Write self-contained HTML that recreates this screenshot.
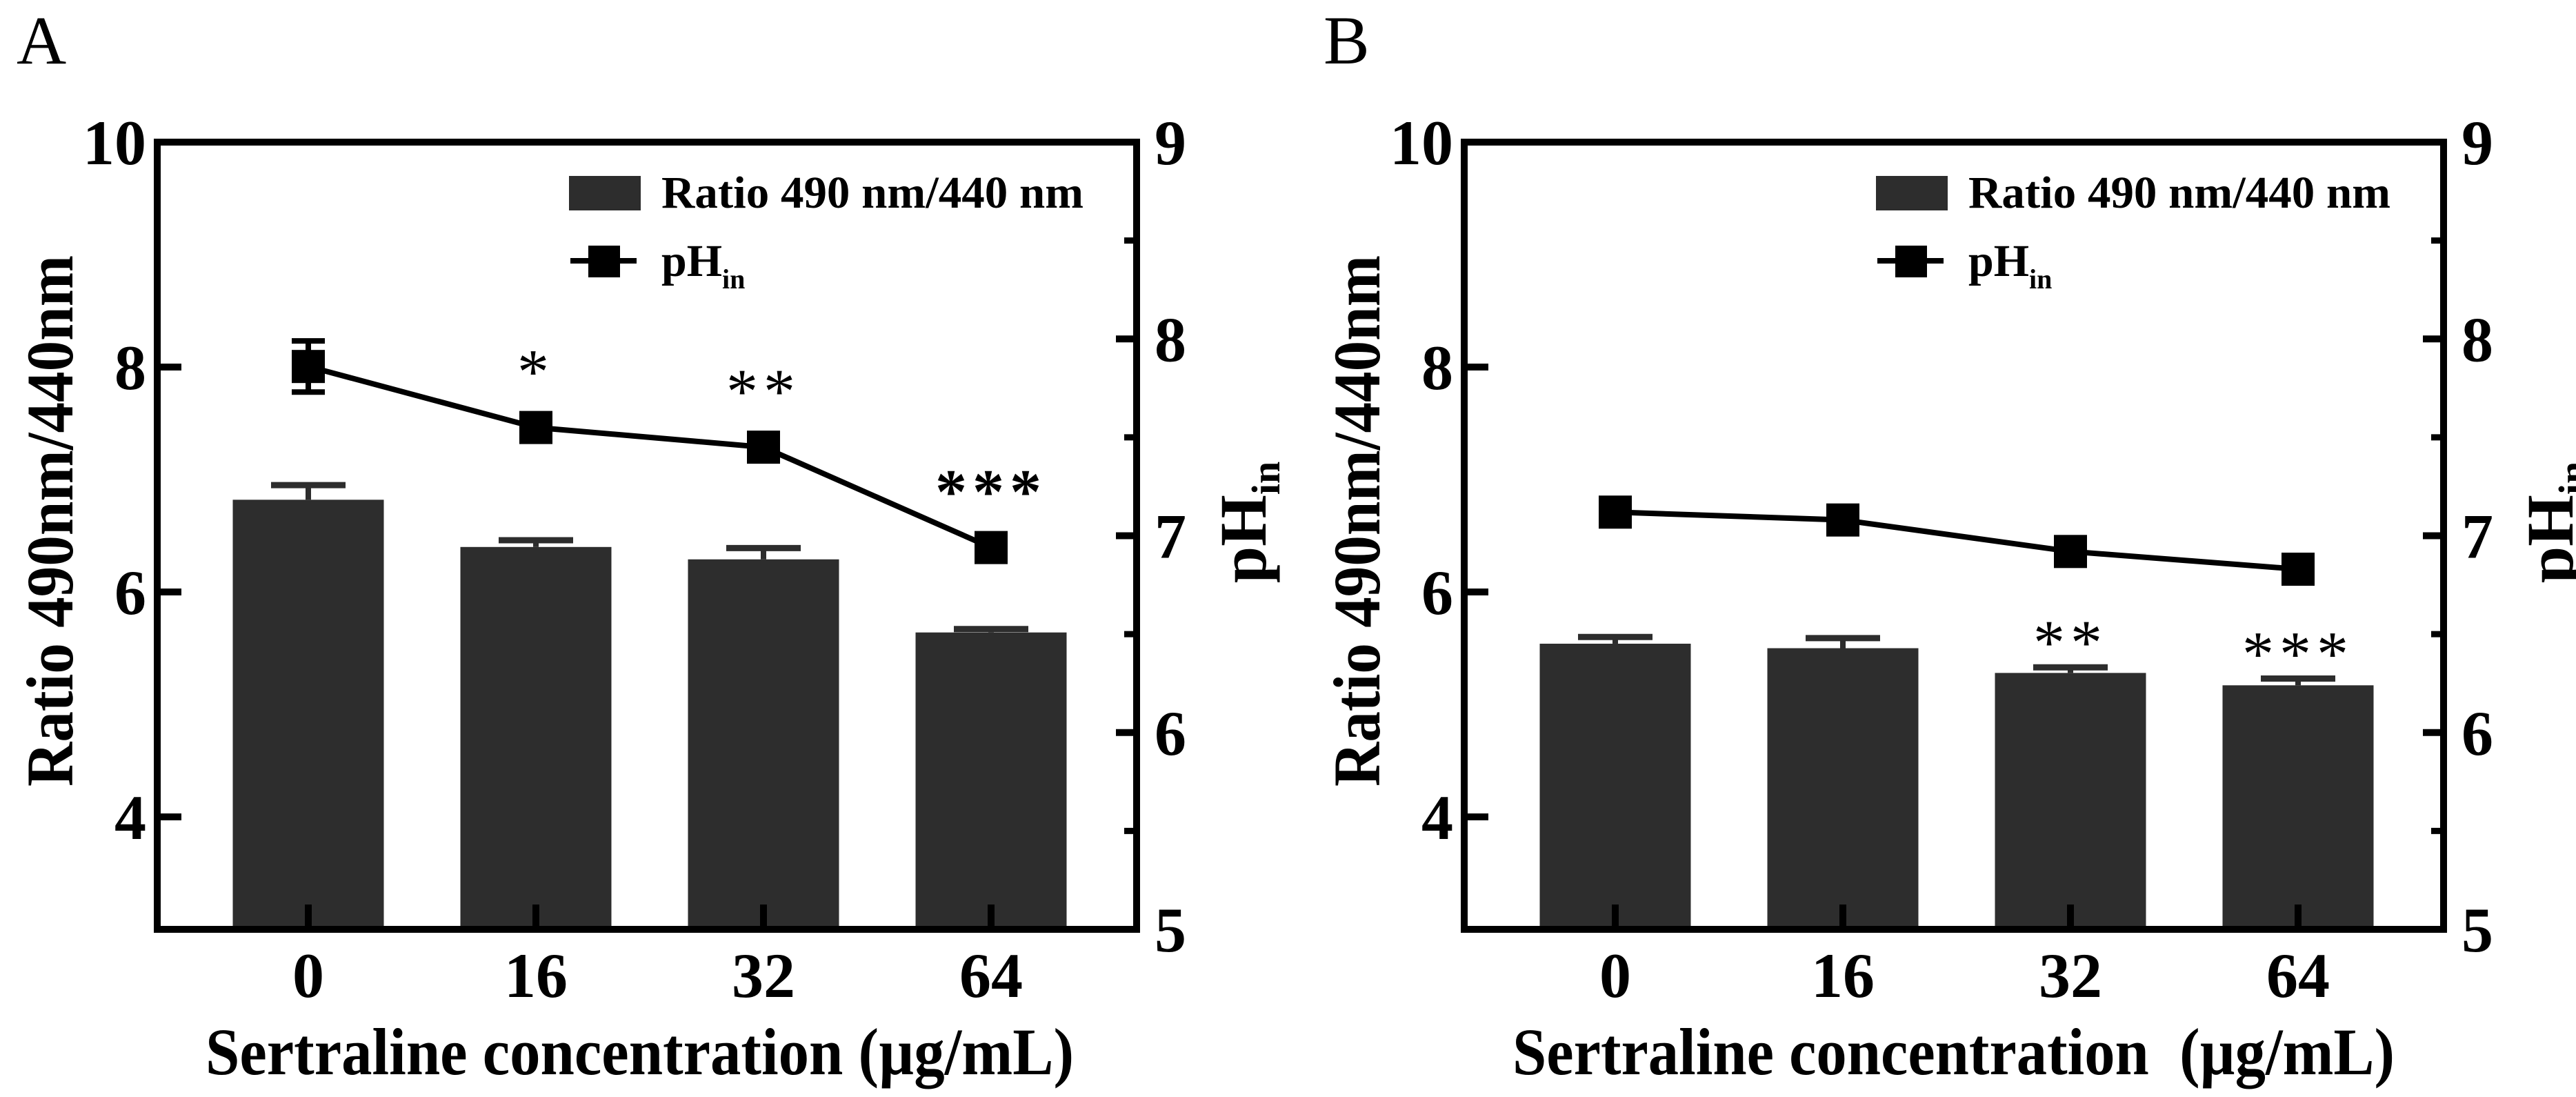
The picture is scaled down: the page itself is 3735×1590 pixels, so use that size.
<!DOCTYPE html>
<html><head><meta charset="utf-8"><style>
html,body{margin:0;padding:0;background:#fff;}
svg{display:block;}
text{font-family:"Liberation Serif",serif;fill:#000;}
</style></head><body>
<svg id="chart" width="3735" height="1590" viewBox="0 0 3735 1590" xmlns="http://www.w3.org/2000/svg"></svg>
<script>
const categories = ['0', '16', '32', '64'];
const ratioA = [6.82, 6.40, 6.29, 5.64];
const ratioErrA = [0.13, 0.06, 0.10, 0.03];
const phA = [7.86, 7.55, 7.45, 6.94];
const phErrA = [0.13, 0.03, 0.04, 0.03];
const sigA = ['', '*', '**', '***'];
const ratioB = [5.54, 5.50, 5.28, 5.17];
const ratioErrB = [0.06, 0.09, 0.05, 0.06];
const phB = [7.12, 7.08, 6.92, 6.83];
const phErrB = [0.02, 0.02, 0.02, 0.02];
const sigB = ['', '', '**', '***'];
const leftTicks = [4, 6, 8, 10];
const rightTicks = [5, 6, 7, 8, 9];
const rightMinor = [5.5, 6.5, 7.5, 8.5];

const NS = 'http://www.w3.org/2000/svg';
const svg = document.getElementById('chart');
function mk(tag, attrs, parent, txt) {
  const e = document.createElementNS(NS, tag);
  for (const k in attrs) e.setAttribute(k, attrs[k]);
  if (txt !== undefined) e.textContent = txt;
  (parent || svg).appendChild(e);
  return e;
}

function panel(off, letter, ratio, ratioErr, ph, phErr, sig, sigMode, xTitle) {
  const g = mk('g', {});
  
  
  const L = 228 + off, R = 1648 + off, T = 206, B = 1347;
  const yL = v => T + (10 - v) * (B - T) / 7;
  const yR = v => T + (9 - v) * (B - T) / 4;
  const xC = i => L + 219 + i * 330;
  const bw = 219;

  const lt = mk('text', {x: 24 + off, y: 92, 'font-size': 100}, g, letter);
  
  

  // bars
  ratio.forEach((v, i) => {
    const r = mk('rect', {x: xC(i) - bw / 2, y: yL(v), width: bw, height: B - yL(v), fill: '#2d2d2d'}, g);
    
    
    const ey = yL(v + ratioErr[i]);
    const e1 = mk('line', {x1: xC(i), x2: xC(i), y1: yL(v), y2: ey, stroke: '#2d2d2d', 'stroke-width': 8}, g);
    
    
    const e2 = mk('line', {x1: xC(i) - 54, x2: xC(i) + 54, y1: ey, y2: ey, stroke: '#2d2d2d', 'stroke-width': 9}, g);
    
    
  });

  // x ticks inside
  categories.forEach((c, i) => {
    const t = mk('line', {x1: xC(i), x2: xC(i), y1: B, y2: B - 36, stroke: '#000', 'stroke-width': 10}, g);
    
    
    const tl = mk('text', {x: xC(i), y: 1445, 'font-size': 92, 'font-weight': 'bold', 'text-anchor': 'middle'}, g, c);
    
    
  });

  // pH line
  const pts = ph.map((v, i) => xC(i) + ',' + yR(v)).join(' ');
  const pl = mk('polyline', {points: pts, fill: 'none', stroke: '#000', 'stroke-width': 8}, g);
  
  
  ph.forEach((v, i) => {
    const top = yR(v + phErr[i]), bot = yR(v - phErr[i]);
    const eb = mk('path', {d: `M${xC(i)-24},${top}H${xC(i)+24}M${xC(i)},${top}V${bot}M${xC(i)-24},${bot}H${xC(i)+24}`, stroke: '#000', 'stroke-width': 8, fill: 'none'}, g);
    
    
    const m = mk('rect', {x: xC(i) - 24, y: yR(v) - 24, width: 48, height: 48, fill: '#000'}, g);
    
    
  });

  // significance stars
  sig.forEach((s, i) => {
    if (!s) return;
    const cy = sigMode === 'ph' ? yR(ph[i]) - 100 : yL(ratio[i] + ratioErr[i]) - 55;
    const st = mk('text', {x: xC(i), y: cy + 50, 'font-size': 92, 'text-anchor': 'middle', 'letter-spacing': 8, 'font-weight': s.length === 3 && sigMode === 'ph' ? 'bold' : 'normal'}, g, s);
    
    
  });

  // frame
  const fr = mk('path', {d: `M${L},${T}H${R}V${B}H${L}Z`, fill: 'none', stroke: '#000', 'stroke-width': 10}, g);
  
  

  // left ticks
  leftTicks.forEach(v => {
    if (v < 10) {
      const t = mk('line', {x1: L, x2: L + 35, y1: yL(v), y2: yL(v), stroke: '#000', 'stroke-width': 10}, g);
      
      
    }
    const tl = mk('text', {x: L - 16, y: yL(v) + 32, 'font-size': 92, 'font-weight': 'bold', 'text-anchor': 'end'}, g, String(v));
    
    
  });
  // right ticks
  rightTicks.forEach(v => {
    if (v > 5 && v < 9) {
      const t = mk('line', {x1: R, x2: R - 30, y1: yR(v), y2: yR(v), stroke: '#000', 'stroke-width': 10}, g);
      
      
    }
    const tl = mk('text', {x: R + 26, y: yR(v) + 32, 'font-size': 92, 'font-weight': 'bold'}, g, String(v));
    
    
  });
  rightMinor.forEach(v => {
    const t = mk('line', {x1: R, x2: R - 18, y1: yR(v), y2: yR(v), stroke: '#000', 'stroke-width': 9}, g);
    
    
  });

  // axis titles
  const yt = mk('text', {x: 0, y: 0, 'font-size': 96, 'font-weight': 'bold', 'text-anchor': 'middle', textLength: 770, lengthAdjust: 'spacingAndGlyphs', transform: `translate(${105 + off},755) rotate(-90)`}, g, 'Ratio 490nm/440nm');
  
  
  const rt = mk('text', {x: 0, y: 0, 'font-size': 96, 'font-weight': 'bold', 'text-anchor': 'middle', transform: `translate(${1835 + off},757) rotate(-90)`}, g);
  
  
  mk('tspan', {}, rt, 'pH');
  mk('tspan', {'font-size': 58, dy: 20}, rt, 'in');
  const xt = mk('text', {x: 298 + off, y: 1557, 'font-size': 96, 'font-weight': 'bold', textLength: xTitle.len, lengthAdjust: 'spacingAndGlyphs'}, g, xTitle.t);
  
  

  // legend
  const lg = mk('g', {}, g);
  
  
  const lr = mk('rect', {x: 825 + off, y: 255, width: 104, height: 50, fill: '#2d2d2d'}, lg);
  
  
  const lt1 = mk('text', {x: 959 + off, y: 301, 'font-size': 66, 'font-weight': 'bold', textLength: 612, lengthAdjust: 'spacingAndGlyphs'}, lg, 'Ratio 490 nm/440 nm');
  
  
  const ll = mk('line', {x1: 827 + off, x2: 923 + off, y1: 378, y2: 378, stroke: '#000', 'stroke-width': 8}, lg);
  
  
  const lm = mk('rect', {x: 853 + off, y: 356, width: 46, height: 46, fill: '#000'}, lg);
  
  
  const lt2 = mk('text', {x: 959 + off, y: 400, 'font-size': 66, 'font-weight': 'bold'}, lg);
  
  
  mk('tspan', {}, lt2, 'pH');
  mk('tspan', {'font-size': 40, dy: 18}, lt2, 'in');
}

panel(0, 'A', ratioA, ratioErrA, phA, phErrA, sigA, 'ph', {t: 'Sertraline concentration (\u00b5g/mL)', len: 1259});
panel(1895, 'B', ratioB, ratioErrB, phB, phErrB, sigB, 'bar', {t: 'Sertraline concentration\u00a0 (\u00b5g/mL)', len: 1279});
</script>
</body></html>
